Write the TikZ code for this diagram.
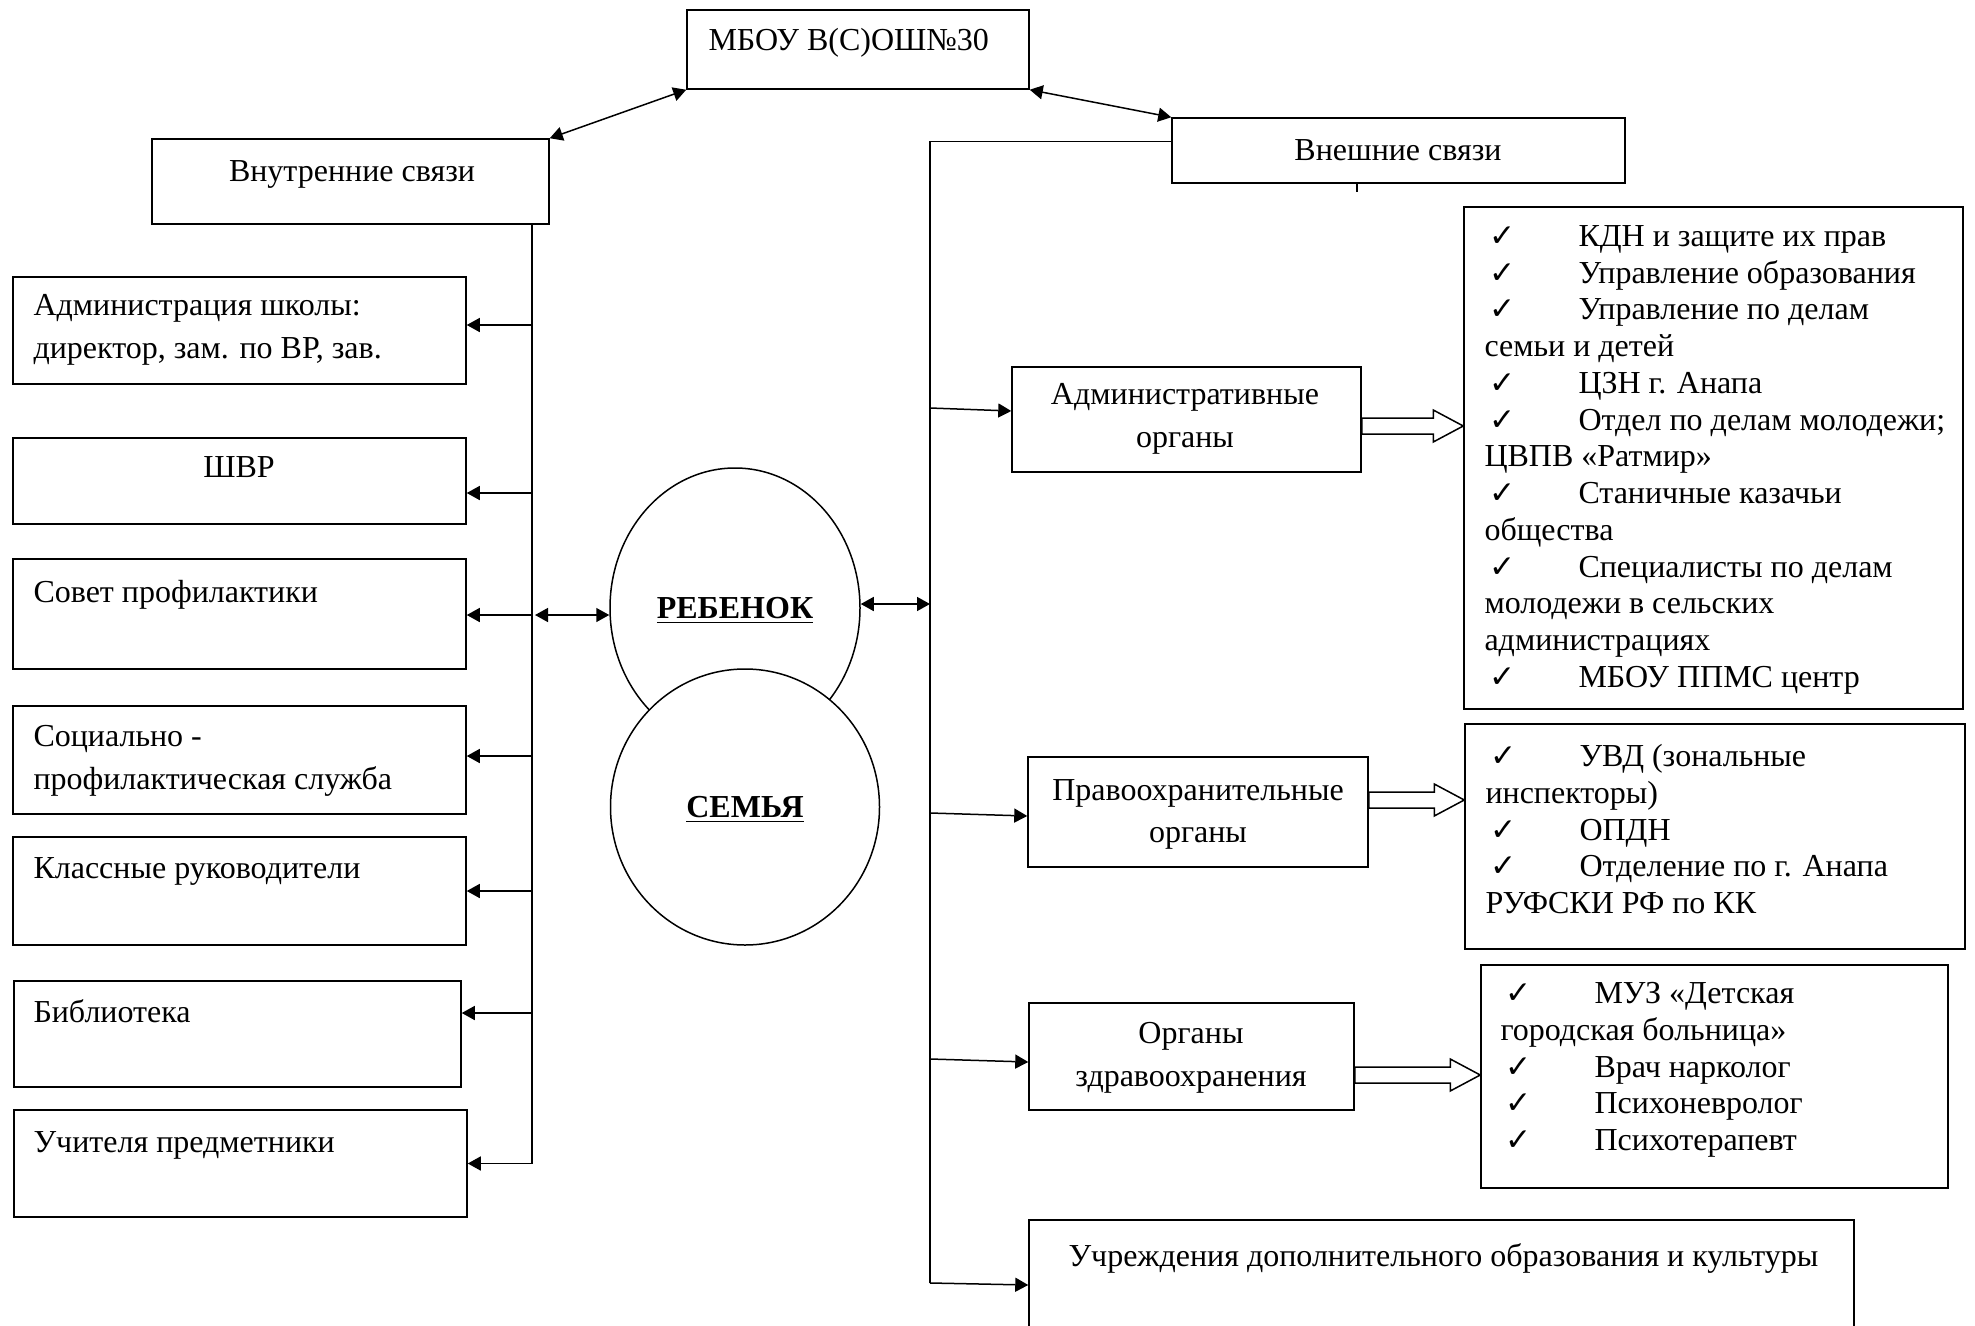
\documentclass[tikz,border=0pt]{standalone}
\usepackage{fontspec}
\setmainfont{Liberation Serif}
\newfontfamily\checkfont{DejaVu Sans}
\usetikzlibrary{fit}
\usetikzlibrary{calc}
\usetikzlibrary{arrows.meta}
\usetikzlibrary{shapes.geometric}
\tikzstyle{block}=[draw, rectangle, inner sep=0pt, line width=0.6pt]
\tikzstyle{oval}=[draw, ellipse, inner sep=0pt, line width=0.6pt, fill=white, text depth=0pt]
\tikzstyle{box text}=[inner sep=0pt, align=left, anchor=north west]
\tikzstyle{centre text}=[inner sep=0pt, align=center, anchor=north]
\tikzstyle{list text}=[box text, font=\fontsize{12.8pt}{14.7pt}\selectfont]
\tikzstyle{bus line}=[line width=0.6pt]
\tikzstyle{link}=[bus line, -{Triangle[length=5.2pt, width=5.6pt]}]
\tikzstyle{both link}=[bus line, {Triangle[length=5.2pt, width=5.6pt]}-{Triangle[length=5.2pt, width=5.6pt]}]
\tikzstyle{hollow arrow}=[line width=0.6pt, fill=white, line join=miter]
\newcommand{\chk}{\makebox[37.6pt][l]{\,{\checkfont\fontsize{12.5pt}{12.5pt}\selectfont ✓}}}
\newcommand{\blockarrow}[2]{%
  \draw[hollow arrow] let \p1=(#1), \p2=(#2) in
    (\x1,\y1+3.2pt) -- (\x2-12pt,\y1+3.2pt) -- (\x2-12pt,\y1+6.4pt) -- (\x2,\y1)
    -- (\x2-12pt,\y1-6.4pt) -- (\x2-12pt,\y1-3.2pt) -- (\x1,\y1-3.2pt) -- cycle;}

\begin{document}
\begin{tikzpicture}[x=0.4pt, y=-0.4pt, font=\fontsize{12.8pt}{17pt}\selectfont]
  \useasboundingbox (0,0) rectangle (1975,1326);
  \clip (0,0) rectangle (1975,1326);
  \coordinate (lbus) at (532,0);
  \coordinate (rbus) at (930,0);

  % top level
  \node[block, fit={(687,10) (1029,89)}] (mbou) {};
  \node[box text] (mbou text) at (708,28) {МБОУ В(С)ОШ№30};
  \node[block, fit={(152,139) (549,224)}] (vnutr) {};
  \node[centre text] (vnutr text) at (352,160) {Внутренние связи};
  \node[block, fit={(1172,118) (1625,183)}] (vnesh) {};
  \node[centre text] (vnesh text) at (1398,139) {Внешние связи};
  \draw[both link] (vnutr.north east) -- (mbou.south west);
  \draw[both link] (mbou.south east) -- (vnesh.north west);
  \draw[bus line] ([xshift=-16.6pt]vnesh.south) -- ++(0,8);

  % inner links
  \node[block, fit={(13,277) (466,384)}] (adm) {};
  \node[box text] (adm text) at (33,294) {Администрация школы:\\директор, зам. по ВР, зав.};
  \node[block, fit={(13,438) (466,524)}] (shvr) {};
  \node[centre text] (shvr text) at (239,456) {ШВР};
  \node[block, fit={(13,559) (466,669)}] (sovet) {};
  \node[box text] (sovet text) at (33,580) {Совет профилактики};
  \node[block, fit={(13,706) (466,814)}] (soc) {};
  \node[box text] (soc text) at (33,725) {Социально -\\профилактическая служба};
  \node[block, fit={(13,837) (466,945)}] (klass) {};
  \node[box text] (klass text) at (33,857) {Классные руководители};
  \node[block, fit={(14,981) (461,1087)}] (bibl) {};
  \node[box text] (bibl text) at (33,999) {Библиотека};
  \node[block, fit={(14,1110) (467,1217)}] (uchit) {};
  \node[box text] (uchit text) at (33,1131) {Учителя предметники};

  \draw[bus line] (vnutr.south -| lbus) -- (uchit.east -| lbus);
  \draw[link] ([yshift=2.2pt]adm.east -| lbus) -- ([yshift=2.2pt]adm.east);
  \draw[link] ([yshift=-4.8pt]shvr.east -| lbus) -- ([yshift=-4.8pt]shvr.east);
  \draw[link] ([yshift=-0.4pt]sovet.east -| lbus) -- ([yshift=-0.4pt]sovet.east);
  \draw[link] ([yshift=1.6pt]soc.east -| lbus) -- ([yshift=1.6pt]soc.east);
  \draw[link] (klass.east -| lbus) -- (klass.east);
  \draw[link] ([yshift=8.4pt]bibl.east -| lbus) -- ([yshift=8.4pt]bibl.east);
  \draw[link] (uchit.east -| lbus) -- (uchit.east);

  % child and family
  \node[oval, minimum width=100pt, minimum height=112pt] (reb) at (735,608) {\underline{\textbf{РЕБЕНОК}}};
  \node[oval, minimum width=107.6pt, minimum height=110.4pt] (sem) at (745,807) {\underline{\textbf{СЕМЬЯ}}};
  \draw[both link] ([yshift=-0.4pt,xshift=1.2pt]sovet.east -| lbus) -- ([yshift=-0.4pt]sovet.east -| reb.west);
  \draw[both link] ([yshift=1.6pt]reb.east) -- ([yshift=1.6pt]reb.east -| rbus);

  % outer links
  \node[block, fit={(1012,367) (1361,472)}] (admorg) {};
  \node[centre text] (admorg text) at (1185,383) {Административные\\органы};
  \node[block, fit={(1028,757) (1368,867)}] (pravo) {};
  \node[centre text] (pravo text) at (1198,779) {Правоохранительные\\органы};
  \node[block, fit={(1029,1003) (1354,1110)}] (zdrav) {};
  \node[centre text] (zdrav text) at (1191,1022) {Органы\\здравоохранения};
  \node[block, fit={(1029,1220) (1854,1360)}] (uchr) {};
  \node[box text] (uchr text) at (1068,1243) {Учреждения дополнительного образования и культуры};

  \draw[bus line] ([yshift=3.6pt]vnesh.west) -| ([yshift=2.8pt]uchr.west -| rbus);
  \draw[link] ([yshift=4.6pt]admorg.west -| rbus) -- ([yshift=3.4pt]admorg.west);
  \draw[link] ([yshift=-0.4pt]pravo.west -| rbus) -- ([yshift=-1.6pt]pravo.west);
  \draw[link] ([yshift=-1pt]zdrav.west -| rbus) -- ([yshift=-2.2pt]zdrav.west);
  \draw[link] ([yshift=2.8pt]uchr.west -| rbus) -- ([yshift=2pt]uchr.west);

  % lists
  \node[block, fit={(1464,207) (1963,709)}] (list1) {};
  \node[list text] (list1 text) at (1484,225) {\chk КДН и защите их прав\\
    \chk Управление образования\\
    \chk Управление по делам\\
    семьи и детей\\
    \chk ЦЗН г. Анапа\\
    \chk Отдел по делам молодежи;\\
    ЦВПВ «Ратмир»\\
    \chk Станичные казачьи\\
    общества\\
    \chk Специалисты по делам\\
    молодежи в сельских\\
    администрациях\\
    \chk МБОУ ППМС центр};
  \node[block, fit={(1465,724) (1965,949)}] (list2) {};
  \node[list text] (list2 text) at (1485,744) {\chk УВД (зональные\\
    инспекторы)\\
    \chk ОПДН\\
    \chk Отделение по г. Анапа\\
    РУФСКИ РФ по КК};
  \node[block, fit={(1481,965) (1948,1188)}] (list3) {};
  \node[list text] (list3 text) at (1500,982) {\chk МУЗ «Детская\\
    городская больница»\\
    \chk Врач нарколог\\
    \chk Психоневролог\\
    \chk Психотерапевт};

  \blockarrow{[yshift=-2.6pt]admorg.east}{list1.west}
  \blockarrow{[yshift=4.8pt]pravo.east}{list2.west}
  \blockarrow{[yshift=-7.4pt]zdrav.east}{list3.west}
\end{tikzpicture}
\end{document}
